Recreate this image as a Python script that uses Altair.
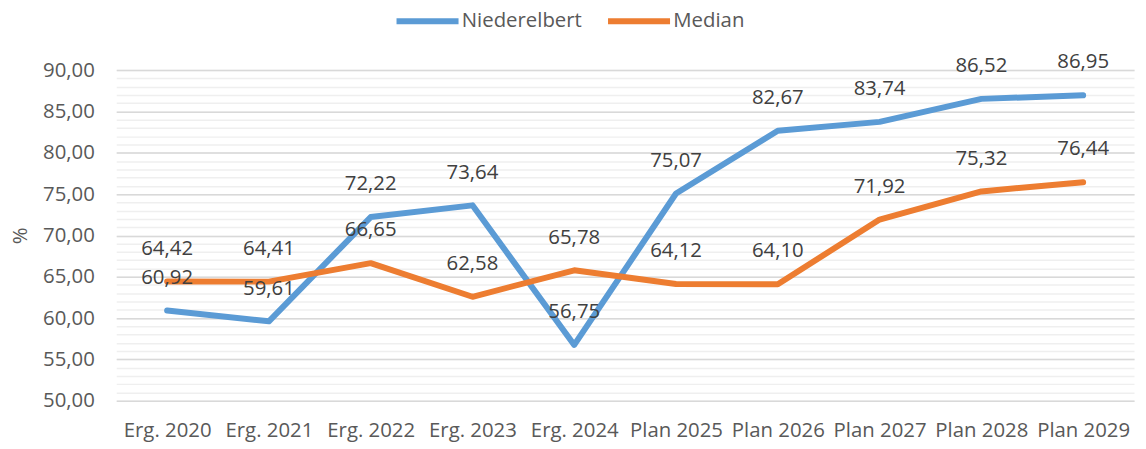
import altair as alt
import pandas as pd

categories = ["Erg. 2020", "Erg. 2021", "Erg. 2022", "Erg. 2023", "Erg. 2024",
              "Plan 2025", "Plan 2026", "Plan 2027", "Plan 2028", "Plan 2029"]
niederelbert = [60.92, 59.61, 72.22, 73.64, 56.75, 75.07, 82.67, 83.74, 86.52, 86.95]
median = [64.42, 64.41, 66.65, 62.58, 65.78, 64.12, 64.10, 71.92, 75.32, 76.44]
series_names = ["Niederelbert", "Median"]
series_colors = ["#5B9BD5", "#ED7D31"]

rows = []
for name, vals in zip(series_names, [niederelbert, median]):
    for c, v in zip(categories, vals):
        rows.append({"Kategorie": c, "Serie": name, "Wert": v})
df = pd.DataFrame(rows)

FONT = "Open Sans"
FS = 20.5
TXT = "#404040"
AX = "#595959"

x = alt.X("Kategorie:N", sort=categories, scale=alt.Scale(type="point", padding=0.5),
          axis=alt.Axis(title=None, labelAngle=0, ticks=False, domain=False, grid=False,
                        labelPadding=20, labelFontSize=FS, labelColor=AX, labelFont=FONT))
yscale = alt.Scale(domain=[50, 90], nice=False, zero=False)

base = alt.Chart(df)

minor = base.mark_rule(opacity=0).encode(
    x=x,
    y=alt.Y("Wert:Q", scale=yscale,
            axis=alt.Axis(orient="left", values=list(range(50, 91)), grid=True, gridColor="#efefef",
                          gridWidth=1.5, labels=False, ticks=False, domain=False, title=None)),
)

major = base.mark_rule(opacity=0).encode(
    x=x,
    y=alt.Y("Wert:Q", scale=yscale,
            axis=alt.Axis(orient="left", values=list(range(50, 91, 5)), grid=True, gridColor="#d9d9d9",
                          gridWidth=1.5, ticks=False, domain=False,
                          labelExpr="replace(format(datum.value, '.2f'), '.', ',')",
                          labelFontSize=FS, labelColor=AX, labelFont=FONT, labelPadding=22,
                          title="%", titleFontSize=FS, titleColor=AX, titleFont=FONT,
                          titleFontWeight="normal", titlePadding=12)),
)

color = alt.Color("Serie:N", sort=series_names,
                  scale=alt.Scale(domain=series_names, range=series_colors),
                  legend=alt.Legend(title=None, orient="none", direction="horizontal",
                                    legendX=279, legendY=-84,
                                    symbolType="stroke", symbolSize=3900, symbolStrokeWidth=6,
                                    labelFontSize=FS, labelColor=AX, labelFont=FONT,
                                    columnPadding=14, labelOffset=0))

lines = base.mark_line(strokeWidth=6, strokeJoin="round", strokeCap="round").encode(
    x=x, y=alt.Y("Wert:Q", scale=yscale, axis=None), color=color,
)

labels = base.transform_calculate(
    lbl="replace(format(datum.Wert, '.2f'), '.', ',')"
).mark_text(dy=-33, fontSize=FS, font=FONT, color=TXT, baseline="middle").encode(
    x=x, y=alt.Y("Wert:Q", scale=yscale, axis=None), text="lbl:N",
)

chart = alt.layer(minor, major, lines, labels).resolve_axis(y="independent").properties(
    width=1025, height=333,
    autosize=alt.AutoSizeParams(type="none"),
    padding={"left": 109, "top": 61, "right": 4, "bottom": 40},
).configure_view(stroke=None)

chart.save("out.html", embed_options={"renderer": "svg", "actions": False})
